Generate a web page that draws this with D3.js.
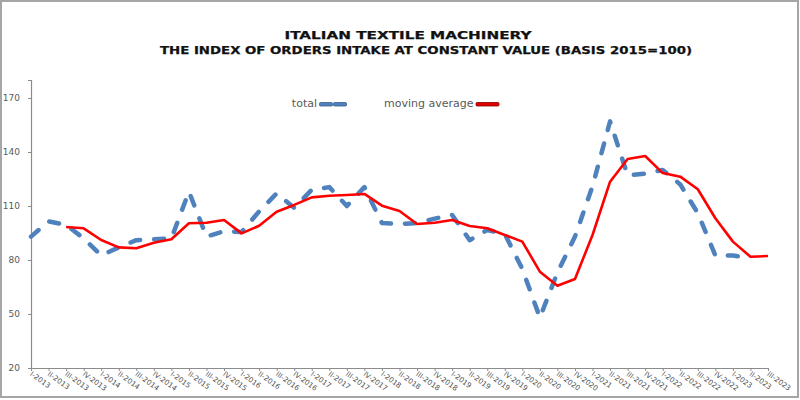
<!DOCTYPE html>
<html>
<head>
<meta charset="utf-8">
<script src="https://cdn.jsdelivr.net/npm/d3@7"></script>
<style>
  html, body { margin: 0; padding: 0; background: #fff; }
  svg { display: block; }
</style>
</head>
<body>
<svg id="chart" width="800" height="400"></svg>
<script>
// ---- data ----
const titleLines = ["ITALIAN TEXTILE MACHINERY", "THE INDEX OF ORDERS INTAKE AT CONSTANT VALUE (BASIS 2015=100)"];
const categories = [
  "I-2013","II-2013","III-2013","IV-2013",
  "I-2014","II-2014","III-2014","IV-2014",
  "I-2015","II-2015","III-2015","IV-2015",
  "I-2016","II-2016","III-2016","IV-2016",
  "I-2017","II-2017","III-2017","IV-2017",
  "I-2018","II-2018","III-2018","IV-2018",
  "I-2019","II-2019","III-2019","IV-2019",
  "I-2020","II-2020","III-2020","IV-2020",
  "I-2021","II-2021","III-2021","IV-2021",
  "I-2022","II-2022","III-2022","IV-2022",
  "I-2023","II-2023","III-2023"
];
// total (null = not shown)
const totalValues = [
  93, 101.5, 99.5, 92,
  82.5, 87, 91, 91.5,
  92, 118, 93, 96,
  95.5, 107, 117, 109,
  119, 120.5, 110, 120.5,
  100.5, 100, 100.5, 103,
  105, 91, 96.7, 94.5,
  75, 48, 73, 93,
  121, 157, 127, 128,
  130, 122, 106, 82.5,
  82.5, 81, null
];
// moving average
const movingAvg = [
  null, null, 98.3, 97.6,
  91.1, 87, 86.5, 89.6,
  91.5, 100.4, 100.7, 102.2,
  94.8, 99, 106.8, 110.6,
  114.8, 115.7, 116.1, 116.7,
  110.2, 107.2, 100, 100.7,
  102.2, 98.9, 97.6, 93.9,
  90.2, 73.5, 65.7, 69.4,
  93.9, 123.5, 136.1, 137.8,
  128.3, 126.3, 119.3, 103.2,
  90.2, 81.8, 82.2
];
const yTicks = [20, 50, 80, 110, 140, 170];
const yDomain = [20, 180];
const legendItems = ["total", "moving average"];

// ---- drawing ----
const svg = d3.select("#chart");
const W = 800, H = 400;
const plot = { left: 31, right: 768, top: 80, bottom: 368 };

const x = d3.scalePoint().domain(categories).range([plot.left, plot.right]);
const y = d3.scaleLinear().domain(yDomain).range([plot.bottom, plot.top]);

const textGray = "#595959";
const axisGray = "#8c8c8c";

// outer border
svg.append("rect")
  .attr("x", 1).attr("y", 1).attr("width", W - 3).attr("height", H - 4)
  .attr("fill", "none").attr("stroke", "#a6a6a6").attr("stroke-width", 2);

// title
const titleCenters = [408, 426];
const titleWidths = [247, 532];
const titleY = [39, 54];
titleLines.forEach((t, i) => {
  svg.append("text")
    .attr("x", titleCenters[i]).attr("y", titleY[i])
    .attr("text-anchor", "middle")
    .attr("font-family", "DejaVu Sans")
    .attr("font-weight", "bold")
    .attr("font-size", 10.5)
    .attr("fill", "#111")
    .attr("stroke", "#111").attr("stroke-width", 0.25)
    .attr("textLength", titleWidths[i])
    .attr("lengthAdjust", "spacingAndGlyphs")
    .text(t);
});

// y axis
const yAxis = d3.axisLeft(y).tickValues(yTicks).tickSize(3).tickPadding(8);
const gy = svg.append("g").attr("transform", `translate(${plot.left},0)`).call(yAxis);
gy.select(".domain").attr("stroke", axisGray).attr("stroke-width", 1.2);
gy.selectAll(".tick line").attr("stroke", axisGray);
gy.selectAll(".tick text")
  .attr("font-family", "DejaVu Sans").attr("font-size", 9).attr("fill", textGray);

// x axis
const xAxis = d3.axisBottom(x).tickSize(3).tickSizeOuter(0);
const gx = svg.append("g").attr("transform", `translate(0,${plot.bottom})`).call(xAxis);
gx.select(".domain").attr("stroke", axisGray).attr("stroke-width", 1.2);
gx.selectAll(".tick line").attr("stroke", axisGray);
gx.selectAll(".tick text")
  .attr("font-family", "DejaVu Sans").attr("font-size", 7.2).attr("fill", "#4d4d4d")
  .attr("text-anchor", "start")
  .attr("x", 0).attr("y", 0).attr("dy", 0)
  .attr("transform", "translate(-2,7) rotate(36)");

// lines
const lineGen = d3.line()
  .defined(d => d.v != null)
  .x(d => x(d.c))
  .y(d => y(d.v));

const totalData = categories.map((c, i) => ({ c, v: totalValues[i] }));
const maData = categories.map((c, i) => ({ c, v: movingAvg[i] }));

svg.append("path")
  .datum(totalData)
  .attr("d", lineGen)
  .attr("fill", "none")
  .attr("stroke", "#4F81BD")
  .attr("stroke-width", 4.5)
  .attr("stroke-dasharray", "10 14")
  .attr("stroke-linecap", "round")
  .attr("stroke-linejoin", "round");

svg.append("path")
  .datum(maData)
  .attr("d", lineGen)
  .attr("fill", "none")
  .attr("stroke", "#FF0000")
  .attr("stroke-width", 2.6)
  .attr("stroke-linejoin", "round");

// legend
const lg = svg.append("g");
lg.append("text").attr("x", 317).attr("y", 106.5).attr("text-anchor", "end")
  .attr("font-family", "DejaVu Sans").attr("font-size", 11).attr("fill", textGray)
  .text(legendItems[0]);
[319.5, 333.5].forEach(px => {
  lg.append("rect").attr("x", px).attr("y", 102.5).attr("width", 13).attr("height", 3.5)
    .attr("rx", 1).attr("fill", "#4F81BD").attr("stroke", "#385D8A").attr("stroke-width", 0.8);
});
lg.append("text").attr("x", 473.5).attr("y", 106.5).attr("text-anchor", "end")
  .attr("font-family", "DejaVu Sans").attr("font-size", 11).attr("fill", textGray)
  .text(legendItems[1]);
lg.append("rect").attr("x", 476).attr("y", 102.5).attr("width", 23).attr("height", 3.5)
  .attr("rx", 1).attr("fill", "#E00000").attr("stroke", "#8B0000").attr("stroke-width", 0.8);
</script>
</body>
</html>
